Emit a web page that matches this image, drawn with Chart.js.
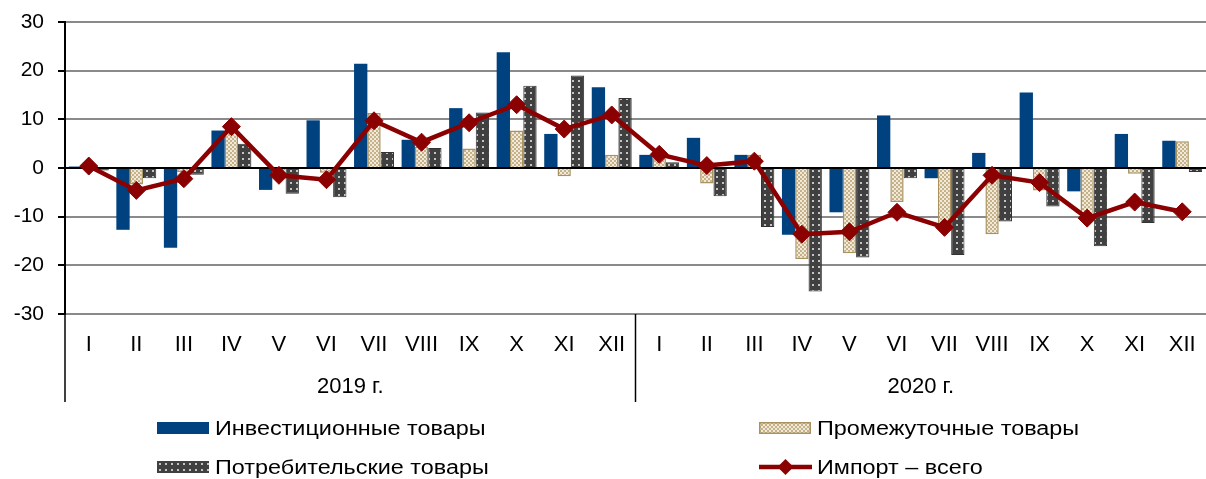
<!DOCTYPE html>
<html>
<head>
<meta charset="utf-8">
<script src="https://cdn.jsdelivr.net/npm/chart.js@4.4.0/dist/chart.umd.min.js"></script>
<style>
  body { margin: 0; background: #fff; }
  #wrap { position: relative; width: 1206px; height: 479px; font-family: 'Liberation Sans', Arial, sans-serif; overflow: hidden; }
  #chart { position: absolute; left: 0; top: 0; }
  .leg { position: absolute; font-size: 20px; color: #000; white-space: nowrap; line-height: 24px; }
  .leg canvas { position: absolute; }
  .leg span { display: inline-block; margin-left: 58px; transform: scaleX(1.17); transform-origin: left center; }
</style>
</head>
<body>
<div id="wrap">
  <canvas id="chart" width="1206" height="479"></canvas>
</div>
<script>
// data
var months = ['I','II','III','IV','V','VI','VII','VIII','IX','X','XI','XII',
              'I','II','III','IV','V','VI','VII','VIII','IX','X','XI','XII'];
var years = ['2019 г.', '2020 г.'];
var investment = [0.3, -12.7, -16.4, 7.7, -4.5, 9.8, 21.4, 5.8, 12.3, 23.8, 7.0, 16.6,
                  2.7, 6.2, 2.7, -13.7, -9.1, 10.8, -2.1, 3.1, 15.5, -4.8, 7.0, 5.6];
var intermediate = [0.5, -3.4, -0.8, 7.5, -0.5, -1.0, 11.3, 4.4, 4.0, 7.7, -1.7, 2.7,
                    2.0, -3.2, 2.7, -18.7, -17.5, -7.0, -12.0, -13.6, -4.6, -10.0, -1.2, 5.5];
var consumer = [-0.5, -2.1, -1.4, 5.0, -5.3, -6.0, 3.3, 4.1, 11.4, 16.9, 19.0, 14.4,
                1.2, -5.8, -12.1, -25.4, -18.4, -2.1, -17.9, -11.0, -7.9, -16.1, -11.3, -0.8];
var importTotal = [0.4, -4.6, -2.2, 8.5, -1.5, -2.4, 9.7, 5.3, 9.3, 13.0, 8.0, 10.9,
                   2.8, 0.5, 1.4, -13.6, -13.1, -9.1, -12.2, -1.5, -3.0, -10.3, -7.0, -9.0];
var yTicks = [-30, -20, -10, 0, 10, 20, 30];

var FONT = "'Liberation Sans', Arial, sans-serif";
var BLUE = '#00427f';
var RED = '#8b0000';

function tanPattern(ctx) {
    var c = document.createElement('canvas');
    c.width = 4; c.height = 4;
    var g = c.getContext('2d');
    g.fillStyle = '#c6b288';
    g.fillRect(0, 0, 4, 4);
    g.fillStyle = '#f1eadb';
    g.fillRect(0, 0, 2, 2);
    g.fillRect(2, 2, 2, 2);
    return ctx.createPattern(c, 'repeat');
}
function darkPattern(ctx) {
    var c = document.createElement('canvas');
    c.width = 6; c.height = 6;
    var g = c.getContext('2d');
    g.fillStyle = '#404040';
    g.fillRect(0, 0, 6, 6);
    g.fillStyle = '#c4c4c4';
    g.fillRect(2, 2, 2, 2);
    return ctx.createPattern(c, 'repeat');
}

var ctx = document.getElementById('chart').getContext('2d');
var TAN = tanPattern(ctx);
var DARK = darkPattern(ctx);

// separators and year captions under the month labels
var yearsPlugin = {
    id: 'years',
    afterDraw: function(chart) {
        var c = chart.ctx, area = chart.chartArea, x = chart.scales.x;
        var bottom = area.bottom + 88;
        c.save();
        c.strokeStyle = '#000';
        c.lineWidth = 1.5;
        var lines = [area.left];
        for (var i = 1; i < years.length; i++) {
            lines.push((x.getPixelForValue(i * 12 - 1) + x.getPixelForValue(i * 12)) / 2);
        }
        lines.forEach(function(px) {
            c.beginPath();
            c.moveTo(px, area.bottom);
            c.lineTo(px, bottom);
            c.stroke();
        });
        c.fillStyle = '#000';
        c.font = '22px ' + FONT;
        c.textAlign = 'center';
        c.textBaseline = 'middle';
        years.forEach(function(y, i) {
            var cx = (x.getPixelForValue(i * 12) + x.getPixelForValue(i * 12 + 11)) / 2;
            c.fillText(y, cx, area.bottom + 73);
        });
        c.restore();
    }
};

new Chart(ctx, {
    type: 'bar',
    data: {
        labels: months,
        datasets: [{
            label: 'Инвестиционные товары',
            data: investment,
            backgroundColor: BLUE,
            order: 1
        }, {
            label: 'Промежуточные товары',
            data: intermediate,
            backgroundColor: TAN,
            borderColor: '#a8925f',
            borderWidth: 1.5,
            order: 1
        }, {
            label: 'Потребительские товары',
            data: consumer,
            backgroundColor: DARK,
            borderColor: '#333333',
            borderWidth: 1,
            order: 1
        }, {
            type: 'line',
            label: 'Импорт – всего',
            data: importTotal,
            borderColor: RED,
            backgroundColor: RED,
            borderWidth: 4.5,
            pointStyle: 'rectRot',
            pointRadius: 9,
            pointBorderWidth: 1,
            tension: 0,
            order: 0
        }]
    },
    options: {
        responsive: false,
        animation: false,
        categoryPercentage: 0.84,
        barPercentage: 1.0,
        layout: {
            autoPadding: false,
            padding: { top: 22, right: 0, left: 0, bottom: 75 }
        },
        plugins: {
            legend: { display: false },
            tooltip: { enabled: false }
        },
        scales: {
            x: {
                offset: true,
                grid: { display: false },
                border: { display: false },
                ticks: {
                    color: '#000',
                    font: { family: FONT, size: 22 },
                    padding: 10,
                    maxRotation: 0,
                    autoSkip: false
                },
                afterFit: function(scale) {
                    scale.height = 90;
                    scale.paddingLeft = 0;
                    scale.paddingRight = 0;
                }
            },
            y: {
                min: -30,
                max: 30,
                afterBuildTicks: function(scale) {
                    scale.ticks = yTicks.map(function(v) { return { value: v }; });
                },
                grid: {
                    color: function(c) { return c.tick && c.tick.value === 0 ? '#000' : '#8a8a8a'; },
                    lineWidth: 2,
                    tickLength: 7,
                    tickColor: '#000'
                },
                border: { color: '#000', width: 2 },
                ticks: {
                    color: '#000',
                    font: { family: FONT, size: 21 },
                    padding: 14
                },
                afterFit: function(scale) {
                    scale.width = 65;
                    scale.paddingTop = 0;
                    scale.paddingBottom = 0;
                }
            }
        }
    },
    plugins: [yearsPlugin]
});

// legend in two columns
var legendItems = [
    { text: 'Инвестиционные товары', left: 157, top: 416, kind: 'blue' },
    { text: 'Промежуточные товары', left: 759, top: 416, kind: 'tan' },
    { text: 'Потребительские товары', left: 157, top: 455, kind: 'dark' },
    { text: 'Импорт – всего', left: 759, top: 455, kind: 'line' }
];
var wrap = document.getElementById('wrap');
legendItems.forEach(function(item) {
    var d = document.createElement('div');
    d.className = 'leg';
    d.style.left = item.left + 'px';
    d.style.top = item.top + 'px';
    var sw = document.createElement('canvas');
    sw.width = 54; sw.height = 24;
    sw.style.left = '0px';
    sw.style.top = '0px';
    var g = sw.getContext('2d');
    if (item.kind === 'line') {
        g.strokeStyle = RED;
        g.lineWidth = 4.5;
        g.beginPath(); g.moveTo(0, 12); g.lineTo(53, 12); g.stroke();
        g.fillStyle = RED;
        g.beginPath(); g.moveTo(26.5, 4); g.lineTo(34.5, 12); g.lineTo(26.5, 20); g.lineTo(18.5, 12); g.closePath(); g.fill();
    } else {
        g.fillStyle = item.kind === 'blue' ? BLUE : (item.kind === 'tan' ? tanPattern(g) : darkPattern(g));
        g.fillRect(0, 6, 52, 12);
        if (item.kind === 'tan') { g.strokeStyle = '#a8925f'; g.lineWidth = 1.5; g.strokeRect(0.75, 6.75, 50.5, 10.5); }
    }
    d.appendChild(sw);
    var t = document.createElement('span');
    t.textContent = item.text;
    d.appendChild(t);
    wrap.appendChild(d);
});
</script>
</body>
</html>
